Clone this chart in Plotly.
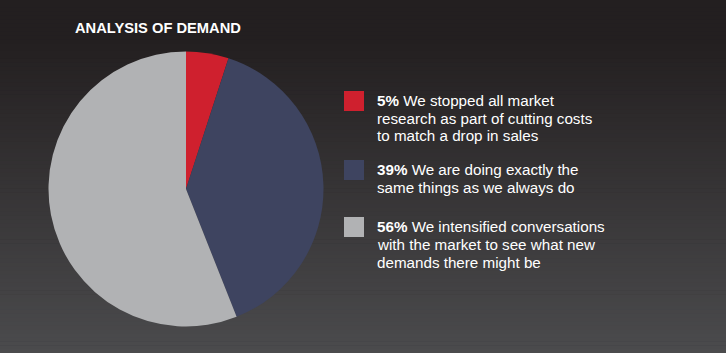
import plotly.graph_objects as go

W, H = 726, 353

# ---- data ----
title = "ANALYSIS OF DEMAND"
percents = [5, 39, 56]
labels = [
    "We stopped all market<br>research as part of cutting costs<br>to match a drop in sales",
    "We are doing exactly the<br>same things as we always do",
    "We intensified conversations<br>with the market to see what new<br>demands there might be",
]
colors = ["#cf202e", "#3e4460", "#b1b2b4"]

FONT = "Liberation Sans, Arial, Helvetica, sans-serif"


def px_x(x):
    return x / W


def px_y(y):
    return 1 - y / H


fig = go.Figure()

cx, cy, r = 186, 189, 137.5
fig.add_trace(go.Pie(
    values=percents,
    labels=[f"{p}%" for p in percents],
    marker=dict(colors=colors, line=dict(width=0)),
    sort=False,
    direction="clockwise",
    rotation=0,
    textinfo="none",
    hoverinfo="label+value",
    showlegend=False,
    domain=dict(x=[px_x(cx - r), px_x(cx + r)], y=[px_y(cy + r), px_y(cy - r)]),
))

shapes = []
# background gradient
top = (0x23, 0x1f, 0x20)
bot = (0x4b, 0x4b, 0x4d)
N = 90
g0 = 40
for i in range(N):
    y0 = i * H / N
    y1 = (i + 1) * H / N + 0.6
    t = max(0.0, ((y0 + y1) / 2 - g0) / (H - g0))
    c = tuple(round(top[k] + (bot[k] - top[k]) * t) for k in range(3))
    shapes.append(dict(type="rect", xref="paper", yref="paper",
                       x0=0, x1=1, y0=px_y(y1), y1=px_y(y0),
                       fillcolor="rgb(%d,%d,%d)" % c, line=dict(width=0),
                       layer="below"))

annotations = [dict(
    text="<b>" + title + "</b>", x=px_x(73), y=px_y(28), xref="paper", yref="paper",
    xanchor="left", yanchor="middle", showarrow=False,
    font=dict(family=FONT, size=14.7, color="#ffffff"),
)]

sq_tops = [91, 160, 217]
line_h = 18
for i, (p, lab, col) in enumerate(zip(percents, labels, colors)):
    t0 = sq_tops[i]
    shapes.append(dict(type="rect", xref="paper", yref="paper",
                       x0=px_x(344), x1=px_x(364), y0=px_y(t0 + 20), y1=px_y(t0),
                       fillcolor=col, line=dict(width=0), layer="above"))
    lines = lab.split("<br>")
    base0 = t0 + 9
    for j, ln in enumerate(lines):
        txt = (f"<b>{p}%</b> " + ln) if j == 0 else ln
        annotations.append(dict(
            text=txt, x=px_x(375), y=px_y(base0 + j * line_h), xref="paper", yref="paper",
            xanchor="left", yanchor="middle", showarrow=False,
            font=dict(family=FONT, size=15.2, color="#ffffff"),
        ))

fig.update_layout(
    width=W, height=H,
    margin=dict(l=0, r=0, t=0, b=0),
    paper_bgcolor="#231f20",
    plot_bgcolor="rgba(0,0,0,0)",
    shapes=shapes,
    annotations=annotations,
    showlegend=False,
)

fig.write_html("out.html")
